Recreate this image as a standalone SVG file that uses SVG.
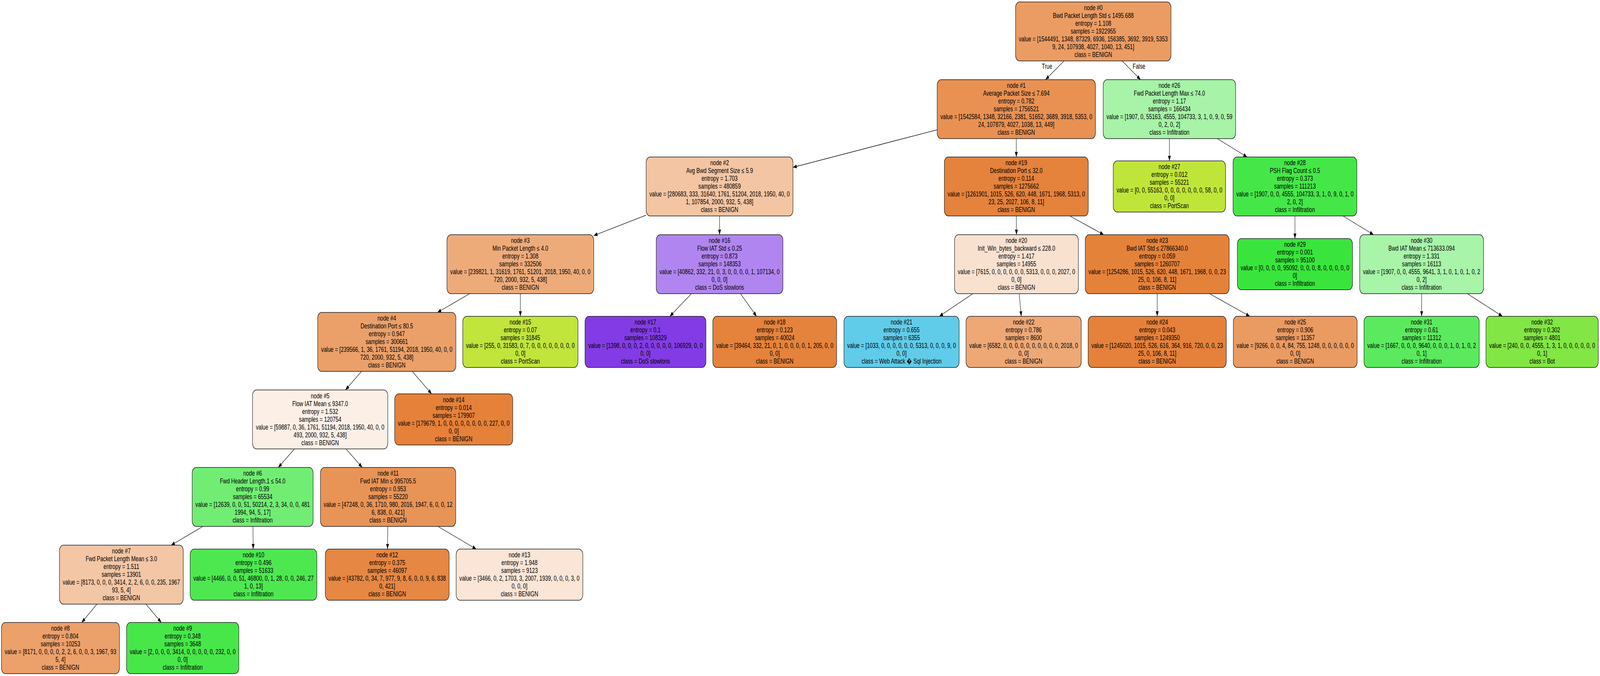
<svg xmlns="http://www.w3.org/2000/svg" width="5570" height="1731" viewBox="0 0 5570 1731" preserveAspectRatio="none" style="width:100vw;height:100vh">
<defs>
<style>
.node rect{stroke:#1a1a1a;stroke-width:1.5}
text{font-family:"Liberation Sans",Arial,Helvetica,sans-serif;font-size:18px;text-anchor:middle;fill:#000}
.edges path{stroke:#000;stroke-width:1.3;fill:none;marker-end:url(#arr)}
</style>
<marker id="arr" markerUnits="userSpaceOnUse" markerWidth="13" markerHeight="10" viewBox="0 0 13 10" refX="13" refY="5" orient="auto"><path d="M0,0 L13,5 L0,10 z" fill="#000"/></marker>
</defs>
<rect width="5570" height="1731" fill="#fff"/>
<g id="edges" class="edges">
<path d="M3704.3,156 L3639.7,204"/>
<path d="M3906.5,156 L3970.5,204"/>
<text x="3645" y="176">True</text>
<text x="3965" y="176">False</text>
<path d="M3262.5,332.3 L2760.5,428.5"/>
<path d="M3538,355 L3538,402"/>
<path d="M2249.5,550.8 L2067,603.2"/>
<path d="M2505,553 L2505,601"/>
<path d="M1635.1,752 L1522.9,800"/>
<path d="M1811.5,752 L1811.5,810"/>
<path d="M1258.3,951 L1202.7,998.5"/>
<path d="M1435.1,951 L1502.6,1008.5"/>
<path d="M1025.1,1149.5 L968.9,1197"/>
<path d="M1204.5,1149.5 L1261,1197"/>
<path d="M706.1,1348 L595.9,1396"/>
<path d="M880.6,1348 L881.5,1406"/>
<path d="M337.4,1547 L284.4,1594"/>
<path d="M508.2,1547 L561.6,1594"/>
<path d="M1349.9,1348 L1349,1406"/>
<path d="M1524.6,1348 L1657.9,1406"/>
<path d="M2407.1,752 L2331.9,810"/>
<path d="M2577.8,752 L2633.8,810"/>
<path d="M3538,553 L3538.5,601"/>
<path d="M3724.1,553 L3842.4,601"/>
<path d="M3386.7,752 L3270.1,810"/>
<path d="M3548,752 L3555.3,810"/>
<path d="M4028.5,752 L4028.5,810"/>
<path d="M4210.8,752 L4350.9,810"/>
<path d="M4071,355 L4071,412"/>
<path d="M4237.6,355 L4341.4,402"/>
<path d="M4508,553 L4508,611"/>
<path d="M4675.3,553 L4781.7,601"/>
<path d="M4949,752 L4949,810"/>
<path d="M5108.2,752 L5230.4,810"/>
</g>
<g id="node0" class="node"><rect x="3535.5" y="5" width="541" height="151" rx="14" fill="#eb9c63"/><text><tspan x="3806" y="26.5">node #0</tspan><tspan x="3806" dy="20">Bwd Packet Length Std ≤ 1495.688</tspan><tspan x="3806" dy="20">entropy = 1.108</tspan><tspan x="3806" dy="20">samples = 1922955</tspan><tspan x="3806" dy="20">value = [1544491, 1348, 87329, 6936, 156385, 3692, 3919, 5353</tspan><tspan x="3806" dy="20">9, 24, 107938, 4027, 1040, 13, 451]</tspan><tspan x="3806" dy="20">class = BENIGN</tspan></text></g>
<g id="node1" class="node"><rect x="3262.5" y="204" width="551" height="151" rx="14" fill="#e89153"/><text><tspan x="3538" y="225.5">node #1</tspan><tspan x="3538" dy="20">Average Packet Size ≤ 7.694</tspan><tspan x="3538" dy="20">entropy = 0.782</tspan><tspan x="3538" dy="20">samples = 1756521</tspan><tspan x="3538" dy="20">value = [1542584, 1348, 32166, 2381, 51652, 3689, 3918, 5353, 0</tspan><tspan x="3538" dy="20">24, 107879, 4027, 1038, 13, 449]</tspan><tspan x="3538" dy="20">class = BENIGN</tspan></text></g>
<g id="node26" class="node"><rect x="3840.5" y="204" width="461" height="151" rx="14" fill="#a7f3a8"/><text><tspan x="4071" y="225.5">node #26</tspan><tspan x="4071" dy="20">Fwd Packet Length Max ≤ 74.0</tspan><tspan x="4071" dy="20">entropy = 1.17</tspan><tspan x="4071" dy="20">samples = 166434</tspan><tspan x="4071" dy="20">value = [1907, 0, 55163, 4555, 104733, 3, 1, 0, 9, 0, 59</tspan><tspan x="4071" dy="20">0, 2, 0, 2]</tspan><tspan x="4071" dy="20">class = Infiltration</tspan></text></g>
<g id="node2" class="node"><rect x="2249.5" y="402" width="511" height="151" rx="14" fill="#f3c5a3"/><text><tspan x="2505" y="423.5">node #2</tspan><tspan x="2505" dy="20">Avg Bwd Segment Size ≤ 5.9</tspan><tspan x="2505" dy="20">entropy = 1.703</tspan><tspan x="2505" dy="20">samples = 480859</tspan><tspan x="2505" dy="20">value = [280683, 333, 31640, 1761, 51204, 2018, 1950, 40, 0</tspan><tspan x="2505" dy="20">1, 107854, 2000, 932, 5, 438]</tspan><tspan x="2505" dy="20">class = BENIGN</tspan></text></g>
<g id="node19" class="node"><rect x="3287.5" y="402" width="501" height="151" rx="14" fill="#e5823b"/><text><tspan x="3538" y="423.5">node #19</tspan><tspan x="3538" dy="20">Destination Port ≤ 32.0</tspan><tspan x="3538" dy="20">entropy = 0.114</tspan><tspan x="3538" dy="20">samples = 1275662</tspan><tspan x="3538" dy="20">value = [1261901, 1015, 526, 620, 448, 1671, 1968, 5313, 0</tspan><tspan x="3538" dy="20">23, 25, 2027, 106, 8, 11]</tspan><tspan x="3538" dy="20">class = BENIGN</tspan></text></g>
<g id="node27" class="node"><rect x="3875.5" y="412" width="391" height="131" rx="14" fill="#c0e539"/><text><tspan x="4071" y="433.5">node #27</tspan><tspan x="4071" dy="20">entropy = 0.012</tspan><tspan x="4071" dy="20">samples = 55221</tspan><tspan x="4071" dy="20">value = [0, 0, 55163, 0, 0, 0, 0, 0, 0, 0, 58, 0, 0</tspan><tspan x="4071" dy="20">0, 0]</tspan><tspan x="4071" dy="20">class = PortScan</tspan></text></g>
<g id="node28" class="node"><rect x="4292.5" y="402" width="431" height="151" rx="14" fill="#45e748"/><text><tspan x="4508" y="423.5">node #28</tspan><tspan x="4508" dy="20">PSH Flag Count ≤ 0.5</tspan><tspan x="4508" dy="20">entropy = 0.373</tspan><tspan x="4508" dy="20">samples = 111213</tspan><tspan x="4508" dy="20">value = [1907, 0, 0, 4555, 104733, 3, 1, 0, 9, 0, 1, 0</tspan><tspan x="4508" dy="20">2, 0, 2]</tspan><tspan x="4508" dy="20">class = Infiltration</tspan></text></g>
<g id="node3" class="node"><rect x="1556" y="601" width="511" height="151" rx="14" fill="#eeab7a"/><text><tspan x="1811.5" y="622.5">node #3</tspan><tspan x="1811.5" dy="20">Min Packet Length ≤ 4.0</tspan><tspan x="1811.5" dy="20">entropy = 1.308</tspan><tspan x="1811.5" dy="20">samples = 332506</tspan><tspan x="1811.5" dy="20">value = [239821, 1, 31619, 1761, 51201, 2018, 1950, 40, 0, 0</tspan><tspan x="1811.5" dy="20">720, 2000, 932, 5, 438]</tspan><tspan x="1811.5" dy="20">class = BENIGN</tspan></text></g>
<g id="node16" class="node"><rect x="2284.5" y="601" width="441" height="151" rx="14" fill="#b185ef"/><text><tspan x="2505" y="622.5">node #16</tspan><tspan x="2505" dy="20">Flow IAT Std ≤ 0.25</tspan><tspan x="2505" dy="20">entropy = 0.873</tspan><tspan x="2505" dy="20">samples = 148353</tspan><tspan x="2505" dy="20">value = [40862, 332, 21, 0, 3, 0, 0, 0, 0, 1, 107134, 0</tspan><tspan x="2505" dy="20">0, 0, 0]</tspan><tspan x="2505" dy="20">class = DoS slowloris</tspan></text></g>
<g id="node20" class="node"><rect x="3323" y="601" width="431" height="151" rx="14" fill="#f9e1d0"/><text><tspan x="3538.5" y="622.5">node #20</tspan><tspan x="3538.5" dy="20">Init_Win_bytes_backward ≤ 228.0</tspan><tspan x="3538.5" dy="20">entropy = 1.417</tspan><tspan x="3538.5" dy="20">samples = 14955</tspan><tspan x="3538.5" dy="20">value = [7615, 0, 0, 0, 0, 0, 0, 5313, 0, 0, 0, 2027, 0</tspan><tspan x="3538.5" dy="20">0, 0]</tspan><tspan x="3538.5" dy="20">class = BENIGN</tspan></text></g>
<g id="node23" class="node"><rect x="3778" y="601" width="501" height="151" rx="14" fill="#e5823a"/><text><tspan x="4028.5" y="622.5">node #23</tspan><tspan x="4028.5" dy="20">Bwd IAT Std ≤ 27866340.0</tspan><tspan x="4028.5" dy="20">entropy = 0.059</tspan><tspan x="4028.5" dy="20">samples = 1260707</tspan><tspan x="4028.5" dy="20">value = [1254286, 1015, 526, 620, 448, 1671, 1968, 0, 0, 23</tspan><tspan x="4028.5" dy="20">25, 0, 106, 8, 11]</tspan><tspan x="4028.5" dy="20">class = BENIGN</tspan></text></g>
<g id="node29" class="node"><rect x="4307.5" y="611" width="401" height="131" rx="14" fill="#39e53c"/><text><tspan x="4508" y="632.5">node #29</tspan><tspan x="4508" dy="20">entropy = 0.001</tspan><tspan x="4508" dy="20">samples = 95100</tspan><tspan x="4508" dy="20">value = [0, 0, 0, 0, 95092, 0, 0, 0, 8, 0, 0, 0, 0, 0</tspan><tspan x="4508" dy="20">0]</tspan><tspan x="4508" dy="20">class = Infiltration</tspan></text></g>
<g id="node30" class="node"><rect x="4733.5" y="601" width="431" height="151" rx="14" fill="#a8f4a9"/><text><tspan x="4949" y="622.5">node #30</tspan><tspan x="4949" dy="20">Bwd IAT Mean ≤ 713633.094</tspan><tspan x="4949" dy="20">entropy = 1.331</tspan><tspan x="4949" dy="20">samples = 16113</tspan><tspan x="4949" dy="20">value = [1907, 0, 0, 4555, 9641, 3, 1, 0, 1, 0, 1, 0, 2</tspan><tspan x="4949" dy="20">0, 2]</tspan><tspan x="4949" dy="20">class = Infiltration</tspan></text></g>
<g id="node4" class="node"><rect x="1106" y="800" width="481" height="151" rx="14" fill="#eba069"/><text><tspan x="1346.5" y="821.5">node #4</tspan><tspan x="1346.5" dy="20">Destination Port ≤ 80.5</tspan><tspan x="1346.5" dy="20">entropy = 0.947</tspan><tspan x="1346.5" dy="20">samples = 300661</tspan><tspan x="1346.5" dy="20">value = [239566, 1, 36, 1761, 51194, 2018, 1950, 40, 0, 0</tspan><tspan x="1346.5" dy="20">720, 2000, 932, 5, 438]</tspan><tspan x="1346.5" dy="20">class = BENIGN</tspan></text></g>
<g id="node15" class="node"><rect x="1611" y="810" width="401" height="131" rx="14" fill="#c1e53b"/><text><tspan x="1811.5" y="831.5">node #15</tspan><tspan x="1811.5" dy="20">entropy = 0.07</tspan><tspan x="1811.5" dy="20">samples = 31845</tspan><tspan x="1811.5" dy="20">value = [255, 0, 31583, 0, 7, 0, 0, 0, 0, 0, 0, 0, 0</tspan><tspan x="1811.5" dy="20">0, 0]</tspan><tspan x="1811.5" dy="20">class = PortScan</tspan></text></g>
<g id="node17" class="node"><rect x="2036.5" y="810" width="421" height="131" rx="14" fill="#833ce5"/><text><tspan x="2247" y="831.5">node #17</tspan><tspan x="2247" dy="20">entropy = 0.1</tspan><tspan x="2247" dy="20">samples = 108329</tspan><tspan x="2247" dy="20">value = [1398, 0, 0, 0, 2, 0, 0, 0, 0, 0, 106929, 0, 0</tspan><tspan x="2247" dy="20">0, 0]</tspan><tspan x="2247" dy="20">class = DoS slowloris</tspan></text></g>
<g id="node18" class="node"><rect x="2481.5" y="810" width="431" height="131" rx="14" fill="#e5833c"/><text><tspan x="2697" y="831.5">node #18</tspan><tspan x="2697" dy="20">entropy = 0.123</tspan><tspan x="2697" dy="20">samples = 40024</tspan><tspan x="2697" dy="20">value = [39464, 332, 21, 0, 1, 0, 0, 0, 0, 1, 205, 0, 0</tspan><tspan x="2697" dy="20">0, 0]</tspan><tspan x="2697" dy="20">class = BENIGN</tspan></text></g>
<g id="node21" class="node"><rect x="2938" y="810" width="401" height="131" rx="14" fill="#60ccea"/><text><tspan x="3138.5" y="831.5">node #21</tspan><tspan x="3138.5" dy="20">entropy = 0.655</tspan><tspan x="3138.5" dy="20">samples = 6355</tspan><tspan x="3138.5" dy="20">value = [1033, 0, 0, 0, 0, 0, 0, 5313, 0, 0, 0, 9, 0</tspan><tspan x="3138.5" dy="20">0, 0]</tspan><tspan x="3138.5" dy="20">class = Web Attack &#xFFFD; Sql Injection</tspan></text></g>
<g id="node22" class="node"><rect x="3363" y="810" width="401" height="131" rx="14" fill="#eda876"/><text><tspan x="3563.5" y="831.5">node #22</tspan><tspan x="3563.5" dy="20">entropy = 0.786</tspan><tspan x="3563.5" dy="20">samples = 8600</tspan><tspan x="3563.5" dy="20">value = [6582, 0, 0, 0, 0, 0, 0, 0, 0, 0, 0, 2018, 0</tspan><tspan x="3563.5" dy="20">0, 0]</tspan><tspan x="3563.5" dy="20">class = BENIGN</tspan></text></g>
<g id="node24" class="node"><rect x="3788" y="810" width="481" height="131" rx="14" fill="#e5813a"/><text><tspan x="4028.5" y="831.5">node #24</tspan><tspan x="4028.5" dy="20">entropy = 0.043</tspan><tspan x="4028.5" dy="20">samples = 1249350</tspan><tspan x="4028.5" dy="20">value = [1245020, 1015, 526, 616, 364, 916, 720, 0, 0, 23</tspan><tspan x="4028.5" dy="20">25, 0, 106, 8, 11]</tspan><tspan x="4028.5" dy="20">class = BENIGN</tspan></text></g>
<g id="node25" class="node"><rect x="4293.5" y="810" width="431" height="131" rx="14" fill="#ea9b62"/><text><tspan x="4509" y="831.5">node #25</tspan><tspan x="4509" dy="20">entropy = 0.906</tspan><tspan x="4509" dy="20">samples = 11357</tspan><tspan x="4509" dy="20">value = [9266, 0, 0, 4, 84, 755, 1248, 0, 0, 0, 0, 0, 0</tspan><tspan x="4509" dy="20">0, 0]</tspan><tspan x="4509" dy="20">class = BENIGN</tspan></text></g>
<g id="node31" class="node"><rect x="4748.5" y="810" width="401" height="131" rx="14" fill="#5bea5e"/><text><tspan x="4949" y="831.5">node #31</tspan><tspan x="4949" dy="20">entropy = 0.61</tspan><tspan x="4949" dy="20">samples = 11312</tspan><tspan x="4949" dy="20">value = [1667, 0, 0, 0, 9640, 0, 0, 0, 1, 0, 1, 0, 2</tspan><tspan x="4949" dy="20">0, 1]</tspan><tspan x="4949" dy="20">class = Infiltration</tspan></text></g>
<g id="node32" class="node"><rect x="5173" y="810" width="391" height="131" rx="14" fill="#82e644"/><text><tspan x="5368.5" y="831.5">node #32</tspan><tspan x="5368.5" dy="20">entropy = 0.302</tspan><tspan x="5368.5" dy="20">samples = 4801</tspan><tspan x="5368.5" dy="20">value = [240, 0, 0, 4555, 1, 3, 1, 0, 0, 0, 0, 0, 0</tspan><tspan x="5368.5" dy="20">0, 1]</tspan><tspan x="5368.5" dy="20">class = Bot</tspan></text></g>
<g id="node5" class="node"><rect x="879" y="998.5" width="471" height="151" rx="14" fill="#fcefe6"/><text><tspan x="1114.5" y="1020">node #5</tspan><tspan x="1114.5" dy="20">Flow IAT Mean ≤ 9347.0</tspan><tspan x="1114.5" dy="20">entropy = 1.532</tspan><tspan x="1114.5" dy="20">samples = 120754</tspan><tspan x="1114.5" dy="20">value = [59887, 0, 36, 1761, 51194, 2018, 1950, 40, 0, 0</tspan><tspan x="1114.5" dy="20">493, 2000, 932, 5, 438]</tspan><tspan x="1114.5" dy="20">class = BENIGN</tspan></text></g>
<g id="node14" class="node"><rect x="1374" y="1008.5" width="411" height="131" rx="14" fill="#e58139"/><text><tspan x="1579.5" y="1030">node #14</tspan><tspan x="1579.5" dy="20">entropy = 0.014</tspan><tspan x="1579.5" dy="20">samples = 179907</tspan><tspan x="1579.5" dy="20">value = [179679, 1, 0, 0, 0, 0, 0, 0, 0, 0, 227, 0, 0</tspan><tspan x="1579.5" dy="20">0, 0]</tspan><tspan x="1579.5" dy="20">class = BENIGN</tspan></text></g>
<g id="node6" class="node"><rect x="669" y="1197" width="421" height="151" rx="14" fill="#72ed74"/><text><tspan x="879.5" y="1218.5">node #6</tspan><tspan x="879.5" dy="20">Fwd Header Length.1 ≤ 54.0</tspan><tspan x="879.5" dy="20">entropy = 0.99</tspan><tspan x="879.5" dy="20">samples = 65534</tspan><tspan x="879.5" dy="20">value = [12639, 0, 0, 51, 50214, 2, 3, 34, 0, 0, 481</tspan><tspan x="879.5" dy="20">1994, 94, 5, 17]</tspan><tspan x="879.5" dy="20">class = Infiltration</tspan></text></g>
<g id="node11" class="node"><rect x="1115.5" y="1197" width="471" height="151" rx="14" fill="#e99457"/><text><tspan x="1351" y="1218.5">node #11</tspan><tspan x="1351" dy="20">Fwd IAT Min ≤ 995705.5</tspan><tspan x="1351" dy="20">entropy = 0.953</tspan><tspan x="1351" dy="20">samples = 55220</tspan><tspan x="1351" dy="20">value = [47248, 0, 36, 1710, 980, 2016, 1947, 6, 0, 0, 12</tspan><tspan x="1351" dy="20">6, 838, 0, 421]</tspan><tspan x="1351" dy="20">class = BENIGN</tspan></text></g>
<g id="node7" class="node"><rect x="207" y="1396" width="431" height="151" rx="14" fill="#f3c6a5"/><text><tspan x="422.5" y="1417.5">node #7</tspan><tspan x="422.5" dy="20">Fwd Packet Length Mean ≤ 3.0</tspan><tspan x="422.5" dy="20">entropy = 1.511</tspan><tspan x="422.5" dy="20">samples = 13901</tspan><tspan x="422.5" dy="20">value = [8173, 0, 0, 0, 3414, 2, 2, 6, 0, 0, 235, 1967</tspan><tspan x="422.5" dy="20">93, 5, 4]</tspan><tspan x="422.5" dy="20">class = BENIGN</tspan></text></g>
<g id="node10" class="node"><rect x="662" y="1406" width="441" height="131" rx="14" fill="#4de850"/><text><tspan x="882.5" y="1427.5">node #10</tspan><tspan x="882.5" dy="20">entropy = 0.496</tspan><tspan x="882.5" dy="20">samples = 51633</tspan><tspan x="882.5" dy="20">value = [4466, 0, 0, 51, 46800, 0, 1, 28, 0, 0, 246, 27</tspan><tspan x="882.5" dy="20">1, 0, 13]</tspan><tspan x="882.5" dy="20">class = Infiltration</tspan></text></g>
<g id="node12" class="node"><rect x="1132.5" y="1406" width="431" height="131" rx="14" fill="#e68743"/><text><tspan x="1348" y="1427.5">node #12</tspan><tspan x="1348" dy="20">entropy = 0.375</tspan><tspan x="1348" dy="20">samples = 46097</tspan><tspan x="1348" dy="20">value = [43782, 0, 34, 7, 977, 9, 8, 6, 0, 0, 9, 6, 838</tspan><tspan x="1348" dy="20">0, 421]</tspan><tspan x="1348" dy="20">class = BENIGN</tspan></text></g>
<g id="node13" class="node"><rect x="1588" y="1406" width="441" height="131" rx="14" fill="#fae5d6"/><text><tspan x="1808.5" y="1427.5">node #13</tspan><tspan x="1808.5" dy="20">entropy = 1.948</tspan><tspan x="1808.5" dy="20">samples = 9123</tspan><tspan x="1808.5" dy="20">value = [3466, 0, 2, 1703, 3, 2007, 1939, 0, 0, 0, 3, 0</tspan><tspan x="1808.5" dy="20">0, 0, 0]</tspan><tspan x="1808.5" dy="20">class = BENIGN</tspan></text></g>
<g id="node8" class="node"><rect x="5" y="1594" width="411" height="131" rx="14" fill="#eca16b"/><text><tspan x="210.5" y="1615.5">node #8</tspan><tspan x="210.5" dy="20">entropy = 0.804</tspan><tspan x="210.5" dy="20">samples = 10253</tspan><tspan x="210.5" dy="20">value = [8171, 0, 0, 0, 0, 2, 2, 6, 0, 0, 3, 1967, 93</tspan><tspan x="210.5" dy="20">5, 4]</tspan><tspan x="210.5" dy="20">class = BENIGN</tspan></text></g>
<g id="node9" class="node"><rect x="440.5" y="1594" width="391" height="131" rx="14" fill="#47e749"/><text><tspan x="636" y="1615.5">node #9</tspan><tspan x="636" dy="20">entropy = 0.348</tspan><tspan x="636" dy="20">samples = 3648</tspan><tspan x="636" dy="20">value = [2, 0, 0, 0, 3414, 0, 0, 0, 0, 0, 232, 0, 0</tspan><tspan x="636" dy="20">0, 0]</tspan><tspan x="636" dy="20">class = Infiltration</tspan></text></g>
</svg>
